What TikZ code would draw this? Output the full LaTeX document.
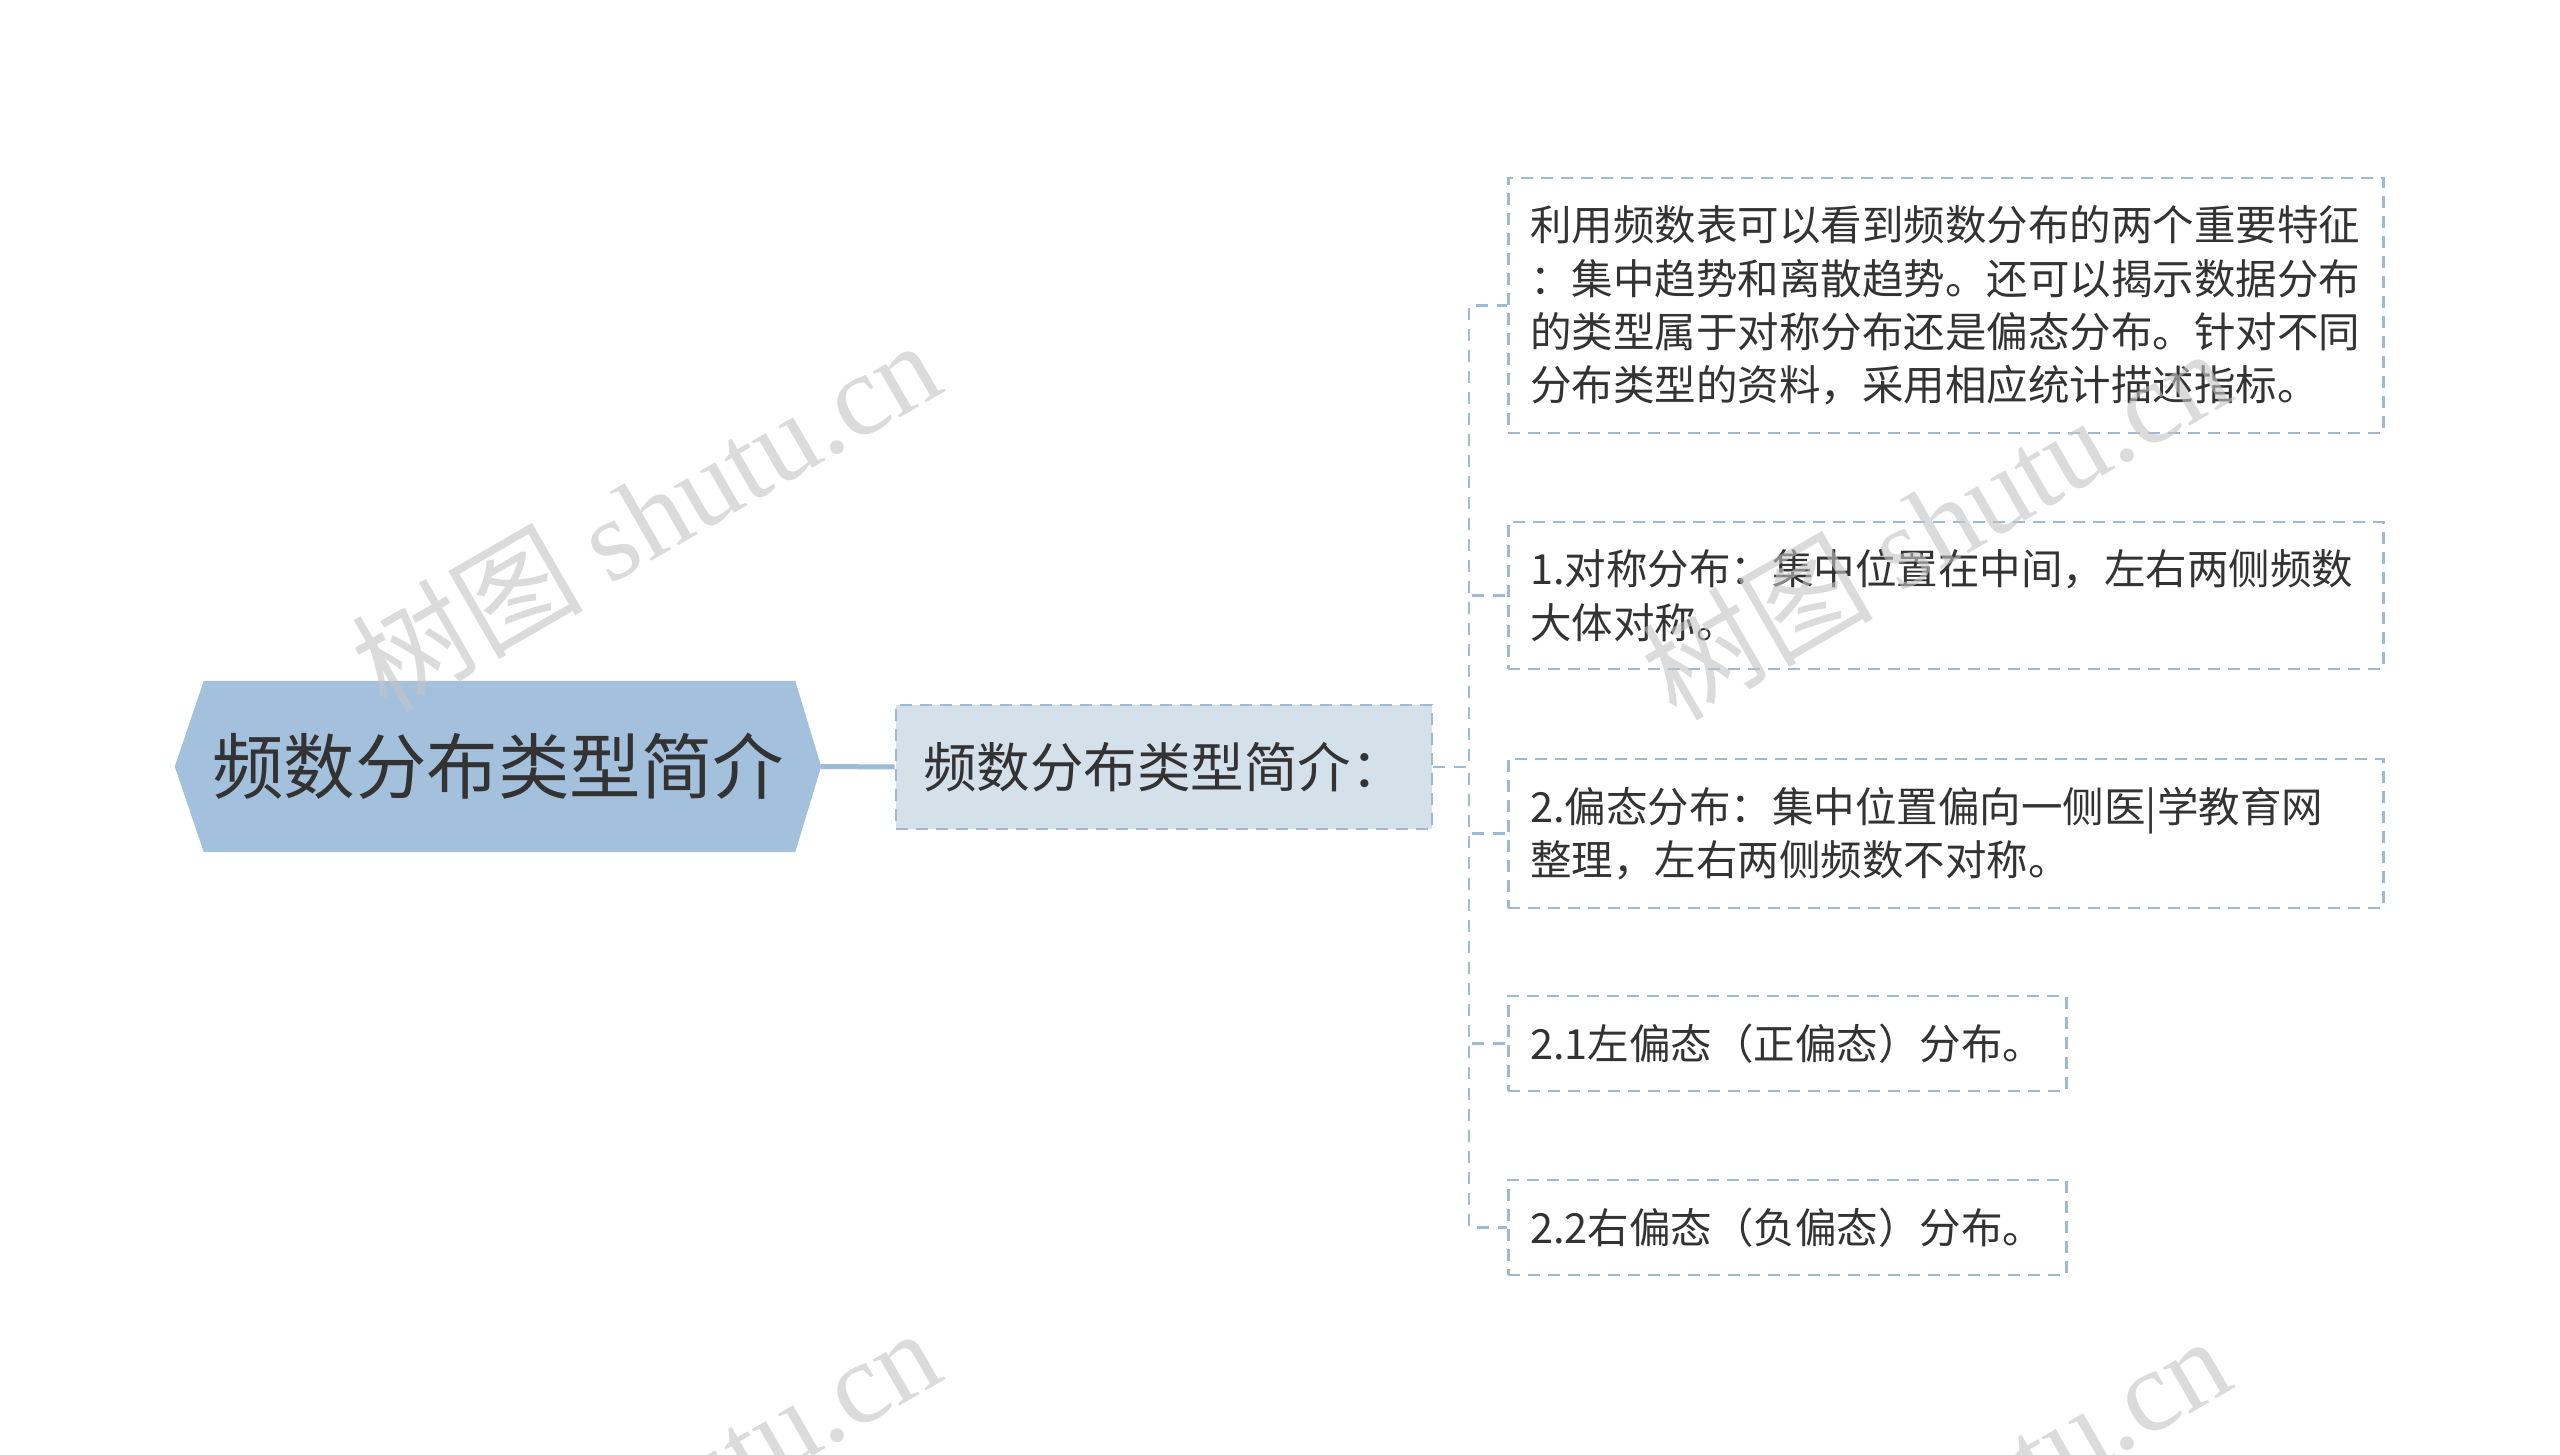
\documentclass[tikz,border=0pt]{standalone}
\usepackage{fontspec}
\setmainfont{Noto Sans CJK SC}
\newfontfamily\wmlatin{Liberation Serif}
\newfontfamily\wmcjk{Noto Sans CJK SC}
\usetikzlibrary{backgrounds}
\definecolor{rootfill}{HTML}{A3C0DC}
\definecolor{midfill}{HTML}{D4E0EA}
\definecolor{bordc}{HTML}{9FB9D0}
\definecolor{connc}{HTML}{9EBBD5}
\definecolor{txt}{HTML}{333333}
\definecolor{wmc}{HTML}{C4C4C4}
\begin{document}
\begin{tikzpicture}[x=1pt,y=-1pt,
  leafbox/.style={draw=bordc, line width=2.6pt, dash pattern=on 12pt off 8pt, anchor=west, align=left,
    inner xsep=22pt, inner ysep=0pt, text=txt, font=\fontsize{41.5}{53.4}\selectfont},
  conn/.style={draw=connc, line width=2.6pt, dash pattern=on 12pt off 9pt},
  wmark/.style={text=wmc, text opacity=0.6, rotate=30, font=\fontsize{116}{116}\selectfont}]
\useasboundingbox (0,0) rectangle (2560,1455);

% root
\node[minimum width=646pt, minimum height=171pt, inner sep=0pt, text=txt,
      font=\fontsize{71.5}{80}\selectfont] (root) at (498,766.5) {频数分布类型简介};
\begin{scope}[on background layer]
\fill[white] (0,0) rectangle (2560,1455);
\fill[rootfill] (root.west) -- ([xshift=29pt]root.north west) -- ([xshift=-26pt]root.north east)
  -- (root.east) -- ([xshift=-26pt]root.south east) -- ([xshift=29pt]root.south west) -- cycle;
\end{scope}

% middle
\node[draw=bordc, fill=midfill, line width=2.6pt, dash pattern=on 12pt off 8pt,
      minimum width=536pt, minimum height=124pt, inner sep=0pt, text=txt,
      font=\fontsize{53.5}{60}\selectfont] (mid) at (1164,767) {频数分布类型简介：};

\draw[connc, line width=5pt] (root.east) -- (mid.west);

% leaves
\node[leafbox, minimum width=875pt, minimum height=255pt, text width=831pt] (l1) at (1507,305.5)
 {利用频数表可以看到频数分布的两个重要特征\\：集中趋势和离散趋势。还可以揭示数据分布\\的类型属于对称分布还是偏态分布。针对不同\\分布类型的资料，采用相应统计描述指标。};
\node[leafbox, minimum width=875pt, minimum height=147pt, text width=831pt] (l2) at (1507,595.5)
 {1.对称分布：集中位置在中间，左右两侧频数\\大体对称。};
\node[leafbox, minimum width=875pt, minimum height=149pt, text width=831pt] (l3) at (1507,833.5)
 {2.偏态分布：集中位置偏向一侧医|学教育网\\整理，左右两侧频数不对称。};
\node[leafbox, minimum width=558pt, minimum height=95pt, text width=514pt] (l4) at (1507,1043.5)
 {2.1左偏态（正偏态）分布。};
\node[leafbox, minimum width=558pt, minimum height=95pt, text width=514pt] (l5) at (1507,1227.5)
 {2.2右偏态（负偏态）分布。};

\coordinate (bus) at (1469,767);
\foreach \l in {l1,l2,l3,l4,l5}{
  \draw[conn] (mid.east) -- (bus) |- (\l.west);
}

% watermarks
\begin{scope}
\clip (0,0) rectangle (2560,1455);
\node[wmark] (wm1) at (645,514) {{\wmcjk 树图} {\wmlatin shutu.cn}};
\node[wmark] (wm2) at (1935,522) {{\wmcjk 树图} {\wmlatin shutu.cn}};
\node[wmark] (wm3) at (645,1502) {{\wmcjk 树图} {\wmlatin shutu.cn}};
\node[wmark] (wm4) at (1935,1510) {{\wmcjk 树图} {\wmlatin shutu.cn}};
\end{scope}
\end{tikzpicture}
\end{document}
